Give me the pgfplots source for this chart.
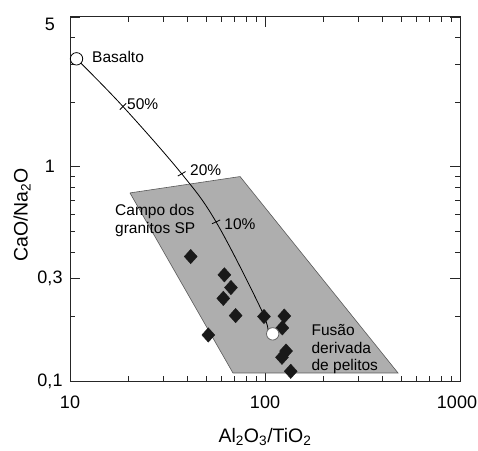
\documentclass[border=0pt]{standalone}
\usepackage{fontspec}
\setmainfont{Liberation Sans}
\usepackage{pgfplots}
\pgfplotsset{compat=1.18}
\definecolor{field}{RGB}{174,174,174}
\begin{document}
\begin{tikzpicture}
\useasboundingbox (0,0) rectangle (478pt,450pt);
\begin{axis}[
  at={(70pt,69pt)}, anchor=south west,
  scale only axis, width=390pt, height=364pt,
  xmode=log, ymode=log,
  xmin=10, xmax=1000, ymin=0.1, ymax=5,
  axis line style={line width=1pt, black!85},
  tick align=inside,
  tick style={line width=0.9pt, black!85},
  major tick length=10pt, minor tick length=5.5pt,
  xtick={10,100,1000}, xticklabels={10,100,{\kern-6pt 1000}},
  minor xtick={20,30,40,50,60,70,80,90,200,300,400,500,600,700,800,900},
  ytick={0.1,0.3,1,5}, yticklabels={{0,1},{0,3},1,{\raisebox{-7pt}[\height][0pt]{5}}},
  minor ytick={0.2,0.4,0.5,0.6,0.7,0.8,0.9,2,3,4},
  ticklabel style={font=\fontsize{18}{20}\selectfont},
  xticklabel style={anchor=center, yshift=-21pt},
  yticklabel style={anchor=center, xshift=-20pt},
  xlabel={Al\textsubscript{2}O\textsubscript{3}/TiO\textsubscript{2}},
  ylabel={CaO/Na\textsubscript{2}O},
  label style={font=\fontsize{19.5}{22}\selectfont},
  xlabel style={at={([yshift=-56pt]rel axis cs:0.5,0)}, anchor=center},
  ylabel style={at={([xshift=-48pt]rel axis cs:0,0.456)}, anchor=center},
  clip=false,
]
% granite field
\addplot[fill=field, draw=black!65, line width=0.6pt] coordinates {(20.3,0.755) (74.5,0.90) (481,0.109) (68.5,0.109) (20.3,0.755)};
% melting curve
\addplot[black, line width=0.8pt, smooth, tension=0.6] coordinates {
(10.8,3.19) (18.7,1.91) (37.4,0.927) (56.1,0.553) (94.2,0.222) (103.6,0.173)};
% percent ticks
\addplot[only marks, mark=-, mark size=4.5pt, mark options={rotate=45, line width=0.8pt}] coordinates {(18.7,1.91)};
\addplot[only marks, mark=-, mark size=4.5pt, mark options={rotate=30, line width=0.8pt}] coordinates {(37.4,0.927)};
\addplot[only marks, mark=-, mark size=4.5pt, mark options={rotate=25, line width=0.8pt}] coordinates {(56.1,0.553)};
% granite samples
\addplot[only marks, mark=diamond*, mark size=7.2pt, mark options={xscale=1.2, fill=black!90, draw=black!90}] coordinates {
(41.6,0.381) (61.9,0.313) (66.9,0.273) (61.1,0.243) (70.7,0.202) (51.2,0.164) (98.8,0.200) (125.6,0.201) (122.7,0.177) (128.2,0.138) (122.2,0.129) (135.5,0.111)};
% end members
\addplot[only marks, mark=*, mark size=6.2pt, mark options={fill=white, draw=black, line width=0.8pt}] coordinates {(10.8,3.19)};
\addplot[only marks, mark=*, mark size=6.2pt, mark options={fill=white, draw=black!60, line width=0.8pt}] coordinates {(109.5,0.166)};
% annotations
\node[anchor=west, inner sep=0pt, font=\fontsize{15.5}{17.6}\selectfont] at (rel axis cs:0.0564,0.890) {Basalto};
\node[anchor=west, inner sep=0pt, font=\fontsize{15.5}{17.6}\selectfont] at (rel axis cs:0.146,0.761) {50\%};
\node[anchor=west, inner sep=0pt, font=\fontsize{15.5}{17.6}\selectfont] at (rel axis cs:0.3077,0.5797) {20\%};
\node[anchor=west, inner sep=0pt, font=\fontsize{15.5}{17.6}\selectfont] at (rel axis cs:0.3956,0.430) {10\%};
\node[anchor=west, inner sep=0pt, align=left, font=\fontsize{15.5}{17.6}\selectfont] at (rel axis cs:0.1154,0.441) {Campo dos\\granitos SP};
\node[anchor=west, inner sep=0pt, align=left, font=\fontsize{15.5}{17.5}\selectfont] at (rel axis cs:0.619,0.0865) {Fusão\\derivada\\de pelitos};
\end{axis}
\end{tikzpicture}
\end{document}
